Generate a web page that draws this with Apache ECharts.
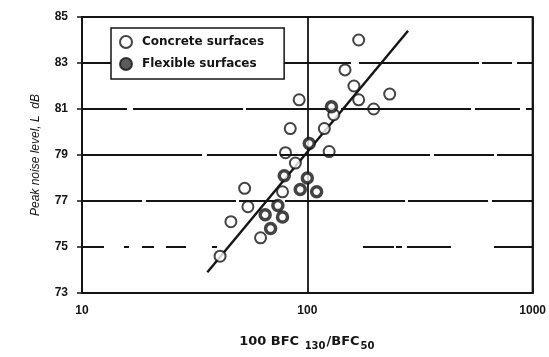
<!DOCTYPE html>
<html>
<head>
<meta charset="utf-8">
<script src="https://cdn.jsdelivr.net/npm/echarts@6/dist/echarts.min.js"></script>
<style>
  html, body { margin: 0; padding: 0; background: #fff; }
  #chart { width: 549px; height: 357px; }
</style>
</head>
<body>
<div id="chart"></div>
<script>
// Peak noise level against the BFC ratio (100·BFC130/BFC50)
const concreteRatio = [169, 147, 161, 169, 232, 197, 92, 131, 84, 119, 125, 80, 88.5, 77.6, 52.7, 54.5, 45.8, 62, 41];
const concreteLevel = [84.0, 82.7, 82.0, 81.4, 81.65, 81.0, 81.4, 80.75, 80.15, 80.15, 79.15, 79.1, 78.65, 77.4, 77.55, 76.75, 76.1, 75.4, 74.6];

const flexibleRatio = [128, 102, 79, 100, 93, 110, 74, 65, 77.6, 68.7];
const flexibleLevel = [81.1, 79.5, 78.1, 78.0, 77.5, 77.4, 76.8, 76.4, 76.3, 75.8];

// Regression line end points
const fitRatio = [36, 280];
const fitLevel = [73.9, 84.4];

const xTicks = [10, 100, 1000];
const yTicks = [73, 75, 77, 79, 81, 83, 85];
const gridLevels = [75, 77, 79, 81, 83];

const ink = '#141414';
const zip = (xs, ys) => xs.map((x, i) => [x, ys[i]]);

// broken, hand-ruled look of the horizontal rules
const gridDash = {
  75: [22, 20, 5, 13, 12, 12, 20, 26, 5, 146, 31, 2, 6, 5, 44, 43, 40, 10],
  77: [60, 4, 90, 3, 40, 6, 120, 3, 80, 4],
  79: [120, 5, 70, 3, 150, 4, 60, 3],
  81: [45, 6, 110, 3, 90, 5, 130, 4],
  83: [30, 5, 160, 4, 70, 8, 120, 3]
};

const chart = echarts.init(document.getElementById('chart'));
chart.setOption({
  animation: false,
  backgroundColor: '#fff',
  grid: {
    left: 82, right: 11, top: 17, bottom: 64,
    show: true, borderColor: ink, borderWidth: 2, backgroundColor: 'transparent'
  },
  legend: {
    orient: 'vertical',
    left: 111, top: 28,
    padding: [7, 20, 8, 8],
    itemGap: 8,
    itemWidth: 12, itemHeight: 12,
    backgroundColor: '#fff',
    borderColor: ink, borderWidth: 1.5,
    z: 20,
    textStyle: { fontFamily: 'DejaVu Sans', fontWeight: 'bold', fontSize: 12, color: ink, padding: [0, 0, 0, 5] },
    data: [
      { name: 'Concrete surfaces', icon: 'circle', itemStyle: { color: '#fff', borderColor: ink, borderWidth: 2 } },
      { name: 'Flexible surfaces', icon: 'circle', itemStyle: { color: '#333', borderColor: ink, borderWidth: 2 } }
    ]
  },
  xAxis: {
    type: 'log', logBase: 10, min: xTicks[0], max: xTicks[xTicks.length - 1],
    name: '{m|100 BFC }{s|130}{m|/BFC}{s|50}',
    nameLocation: 'middle', nameGap: 40,
    nameTextStyle: {
      rich: {
        m: { fontFamily: 'DejaVu Sans', fontWeight: 'bold', fontSize: 13, color: ink },
        s: { fontFamily: 'DejaVu Sans', fontWeight: 'bold', fontSize: 10, color: ink, padding: [8, 1, 0, 1] }
      }
    },
    axisLine: { show: true, lineStyle: { color: ink, width: 2 } },
    axisTick: { show: false },
    axisLabel: { margin: 12, fontFamily: 'Liberation Sans', fontWeight: 'bold', fontSize: 12, color: ink,
      formatter: v => String(Math.round(v)) },
    splitLine: { show: true, lineStyle: { color: ink, width: 1.8 } },
    minorTick: { show: false }
  },
  yAxis: {
    type: 'value', min: yTicks[0], max: yTicks[yTicks.length - 1], interval: 2,
    name: 'Peak noise level, L  dB',
    nameLocation: 'middle', nameGap: 40,
    nameTextStyle: { fontFamily: 'Liberation Sans', fontStyle: 'italic', fontSize: 12, color: ink },
    axisLine: { show: true, lineStyle: { color: ink, width: 2 } },
    axisTick: { show: true, length: 5, lineStyle: { color: ink, width: 1.5 } },
    axisLabel: { margin: 14, fontFamily: 'Liberation Sans', fontWeight: 'bold', fontSize: 12, color: ink },
    splitLine: { show: false }
  },
  series: [
    {
      name: 'grid-levels', type: 'line', data: [], silent: true,
      markLine: {
        silent: true, symbol: 'none', label: { show: false },
        data: gridLevels.map(v => ({ yAxis: v, lineStyle: { color: ink, width: 1.8, type: gridDash[v] } }))
      }
    },
    {
      name: 'fit', type: 'line', data: zip(fitRatio, fitLevel), symbol: 'none',
      lineStyle: { color: ink, width: 2.4 }, z: 3
    },
    {
      name: 'Concrete surfaces', type: 'scatter', data: zip(concreteRatio, concreteLevel),
      symbol: 'circle', symbolSize: 11,
      itemStyle: { color: '#fff', borderColor: ink, borderWidth: 2 }, z: 4
    },
    {
      name: 'Flexible surfaces', type: 'scatter', data: zip(flexibleRatio, flexibleLevel),
      symbol: 'circle', symbolSize: 10,
      itemStyle: { color: '#fff', borderColor: ink, borderWidth: 3.5 }, z: 5
    }
  ]
});
</script>
</body>
</html>
